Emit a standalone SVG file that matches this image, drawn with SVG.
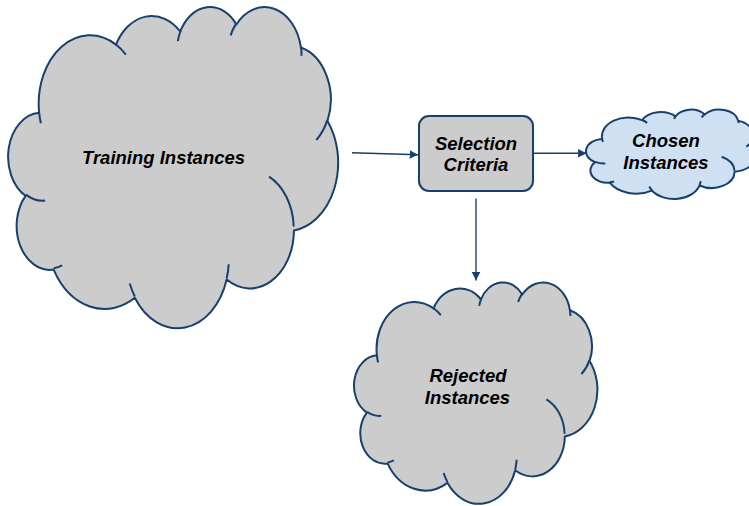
<svg xmlns="http://www.w3.org/2000/svg" xmlns:xlink="http://www.w3.org/1999/xlink" width="749" height="506" viewBox="0 0 749 506">
<style>
.outline{stroke:#17406D;stroke-width:2;vector-effect:non-scaling-stroke;stroke-linejoin:round}
.inner{fill:none;stroke:#17406D;stroke-width:2;vector-effect:non-scaling-stroke}
.gray{fill:#CCCCCC}
.blue{fill:#CFE0F2}
.lbl{font-family:"Liberation Sans",Arial,sans-serif;font-weight:bold;font-style:italic;font-size:18.5px;fill:#000;text-anchor:middle}
.conn{stroke:#17406D;stroke-width:1.4;fill:none}
</style>
<defs>
<path id="cloud" class="outline" d="M3900 14370 A6753 9190 0 0 1 14005 5202 A5333 7267 0 0 1 22456 3433 A4365 5945 0 0 1 29834 2482 A4857 6595 0 0 1 38319 5578 A5333 7273 0 0 1 41820 15461 A6775 9220 0 0 1 37404 30203 A5785 7867 0 0 1 28557 36813 A6752 9215 0 0 1 16481 39265 A7720 10543 0 0 1 5806 35473 A4360 5918 0 0 1 2116 25550 A4345 5945 0 0 1 3900 14370 Z"/>
<path id="cloudlines" class="inner" d="M4693 26177 A4345 5945 0 0 1 2160 25381 M6928 34899 A4360 5918 0 0 1 5819 35281 M16478 39090 A6752 9215 0 0 1 15810 37349 M28827 34751 A6752 9215 0 0 1 28560 36660 M34129 22954 A5785 7867 0 0 1 37375 29666 M41798 15354 A5333 7273 0 0 1 40350 18031 M38324 5426 A4857 6595 0 0 1 38400 6690 M29078 3952 A4857 6595 0 0 1 29820 2339 M22141 4720 A4365 5945 0 0 1 22500 3330 M14000 5192 A6753 9190 0 0 1 15300 6540 M4127 15789 A6753 9190 0 0 1 3900 14371"/>
<marker id="arr" viewBox="0 0 10 10" refX="10" refY="5" markerWidth="6" markerHeight="6" orient="auto" markerUnits="strokeWidth">
<path d="M0 0 L10 5 L0 10 Z" fill="#17406D"/>
</marker>
</defs>
<g id="training">
<g transform="translate(9.5,6) scale(0.0076042,0.0074306)">
<use xlink:href="#cloud" class="gray"/>
<use xlink:href="#cloudlines"/>
</g>
<text class="lbl" x="163.5" y="163.5">Training Instances</text>
</g>
<g id="selection">
<rect x="419" y="116" width="114" height="75" rx="10" ry="10" fill="#CCCCCC" stroke="#17406D" stroke-width="2"/>
<text class="lbl" x="476" y="149.5">Selection</text>
<text class="lbl" x="476" y="171">Criteria</text>
</g>
<g id="chosen">
<g transform="translate(586.7,109.3) scale(0.0039537,0.0020694)">
<use xlink:href="#cloud" class="blue"/>
<use xlink:href="#cloudlines"/>
</g>
<text class="lbl" x="666" y="147">Chosen</text>
<text class="lbl" x="666" y="168.5">Instances</text>
</g>
<g id="rejected">
<g transform="translate(355,281.7) scale(0.0056088,0.0051227)">
<use xlink:href="#cloud" class="gray"/>
<use xlink:href="#cloudlines"/>
</g>
<text class="lbl" x="468" y="382">Rejected</text>
<text class="lbl" x="467.5" y="403.5">Instances</text>
</g>
<g id="connectors">
<line class="conn" x1="352" y1="152.7" x2="418" y2="154.7" marker-end="url(#arr)"/>
<line class="conn" x1="534" y1="153.3" x2="586.5" y2="153.3" marker-end="url(#arr)"/>
<line class="conn" x1="476" y1="198.5" x2="476" y2="280.5" marker-end="url(#arr)"/>
</g>
</svg>
